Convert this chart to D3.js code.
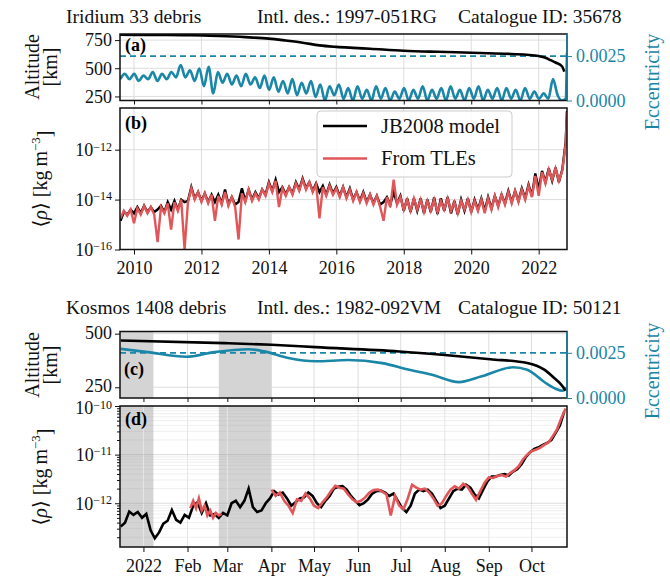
<!DOCTYPE html>
<html>
<head>
<meta charset="utf-8">
<script src="https://cdn.jsdelivr.net/npm/d3@7"></script>
<style>
  body { margin: 0; background: #fff; }
</style>
</head>
<body>
<div id="chart"></div>
<script>
// ---------------- data ----------------
// (a) Iridium 33 debris: altitude [km] vs decimal year
const altAYears = [2009.585, 2010.5, 2011.0, 2011.7, 2012.5, 2013.3, 2014.0, 2014.5, 2015.0, 2015.5, 2016.0, 2016.5, 2017.0, 2018.0, 2019.0, 2020.0, 2021.0, 2021.65, 2022.0, 2022.2, 2022.35, 2022.5, 2022.69, 2022.76];
const altAKm = [797, 796, 795, 793, 786, 776, 763, 746, 727, 703, 690, 681, 673, 656, 646, 638, 629, 620, 608, 593, 572, 551, 518, 470];

// (a) eccentricity, sampled every eccAStep years from eccAStart (alternating highs / lows)
const eccAStart = 2009.59, eccAStep = 0.138;
const eccA = [
  0.0012, 0.0015, 0.0012, 0.0015, 0.0011, 0.0014, 0.0012, 0.0016, 0.0011, 0.0015,
  0.0012, 0.0016, 0.0013, 0.0020, 0.0013, 0.0017, 0.0011, 0.0018, 0.0008, 0.0019,
  0.0004, 0.0016, 0.0010, 0.0015, 0.0009, 0.0014, 0.0008, 0.0015, 0.0009, 0.0013,
  0.0007, 0.0014, 0.0006, 0.0013, 0.0005, 0.0011, 0.0004, 0.0012, 0.0003, 0.0010,
  0.0004, 0.0011, 0.0002, 0.0009, 0.0000, 0.0008, 0.0003, 0.0009, 0.0001, 0.0007,
  0.0000, 0.0008, 0.0001, 0.0006, 0.0000, 0.0008, 0.0001, 0.0007, 0.0000, 0.0005,
  0.0001, 0.0007, 0.0000, 0.0006, 0.0001, 0.0008, 0.0000, 0.0006, 0.0001, 0.0007,
  0.0000, 0.0008, 0.0001, 0.0006, 0.0000, 0.0007, 0.0001, 0.0008, 0.0000, 0.0006,
  0.0001, 0.0007, 0.0000, 0.0007, 0.0001, 0.0006, 0.0000, 0.0007, 0.0001, 0.0005,
  0.0001, 0.0004, 0.0001, 0.0012, 0.0003, 0.0000
];
const eccATailYears = [2022.80, 2022.84];
const eccATail = [0.0001, 0.0027];

// (b) log10 density [kg m^-3], sampled every rhoBStep years from rhoBStart
const rhoBStart = 2009.6, rhoBStep = 0.1;
const tleB = [
  -14.75, -14.45, -14.65, -14.4, -14.95, -14.35, -14.6, -14.25, -14.55, -14.3,
  -14.6, -15.7, -14.3, -14.55, -14.15, -15.2, -14.1, -14.45, -14.0, -16.0,
  -14.1, -13.55, -14.0, -13.7, -14.1, -13.75, -14.15, -13.8, -14.85, -13.85,
  -14.2, -13.7, -14.25, -13.9, -14.3, -15.6, -13.75, -14.1, -13.6, -14.05,
  -13.75, -14.0, -13.6, -13.85, -13.35, -13.7, -13.25, -14.3, -13.55, -13.85,
  -13.5, -13.8, -13.35, -13.65, -13.2, -13.6, -13.3, -13.7, -13.4, -14.75,
  -13.5, -13.85, -13.45, -13.8, -13.55, -13.9, -13.5, -13.95, -13.6, -14.05,
  -13.7, -14.1, -13.75, -14.15, -13.8, -14.2, -13.85, -14.3, -14.85, -13.9,
  -14.3, -13.2, -14.2, -13.9, -14.4, -14.0, -14.45, -13.95, -14.4, -14.0,
  -14.5, -14.05, -14.45, -14.0, -14.5, -14.05, -14.4, -13.95, -14.45, -14.1,
  -14.55, -14.05, -14.4, -14.0, -14.5, -14.05, -14.45, -14.0, -14.55, -13.95,
  -14.4, -13.85, -14.3, -13.8, -14.2, -13.7, -14.15, -13.65, -14.1, -13.6,
  -14.0, -13.45, -13.9, -13.05, -13.85, -12.9, -13.35, -12.8, -13.2, -12.75,
  -13.25, -12.85, -11.8
];
const jbB = [
  -14.85, -14.5, -14.6, -14.4, -14.55, -14.3, -14.55, -14.25, -14.5, -14.3,
  -14.5, -14.4, -14.25, -14.5, -14.1, -14.4, -14.05, -14.4, -14.0, -14.1,
  -14.05, -13.5, -13.95, -13.7, -14.05, -13.75, -14.1, -13.8, -14.1, -13.8,
  -14.15, -13.6, -14.2, -13.9, -14.2, -14.1, -13.55, -14.05, -13.6, -14.0,
  -13.7, -13.95, -13.6, -13.8, -13.3, -13.65, -13.2, -13.7, -13.5, -13.8,
  -13.5, -13.75, -13.3, -13.6, -13.15, -13.55, -13.3, -13.65, -13.35, -13.7,
  -13.45, -13.8, -13.4, -13.75, -13.5, -13.85, -13.5, -13.9, -13.55, -14.0,
  -13.7, -14.05, -13.7, -14.1, -13.8, -14.15, -13.85, -14.2, -14.1, -13.9,
  -14.2, -13.7, -14.15, -13.85, -14.45, -13.95, -14.5, -13.95, -14.45, -13.95,
  -14.55, -14.0, -14.5, -13.92, -14.58, -13.95, -14.45, -13.9, -14.55, -14.05,
  -14.6, -14.0, -14.45, -13.95, -14.5, -14.0, -14.4, -13.95, -14.45, -13.9,
  -14.35, -13.85, -14.25, -13.8, -14.15, -13.65, -14.1, -13.65, -14.05, -13.55,
  -13.95, -13.4, -13.85, -12.95, -13.6, -12.85, -13.3, -12.75, -13.25, -12.72,
  -13.3, -12.8, -11.7
];
const rhoBTailYear = 2022.84;
const tleBTail = -10.5, jbBTail = -10.45;

// (c) Kosmos 1408 debris
const altCDates = ["2021-12-16", "2022-02-27", "2022-04-01", "2022-05-02", "2022-06-30", "2022-08-03", "2022-09-02", "2022-09-28", "2022-10-10", "2022-10-17", "2022-10-23", "2022-10-25"];
const altCKm = [468, 456, 448, 437, 417, 399, 381, 363, 332, 293, 254, 234];
const eccCDates = ["2021-12-16", "2022-01-04", "2022-01-31", "2022-02-20", "2022-03-16", "2022-03-27", "2022-04-13", "2022-05-02", "2022-05-25", "2022-06-18", "2022-07-07", "2022-07-23", "2022-08-11", "2022-08-27", "2022-09-18", "2022-09-28", "2022-10-11", "2022-10-18", "2022-10-23", "2022-10-25"];
const eccC = [0.00272, 0.00254, 0.00228, 0.00254, 0.0027, 0.00258, 0.00221, 0.00203, 0.0021, 0.00193, 0.00156, 0.00129, 0.00088, 0.0012, 0.0017, 0.00156, 0.00083, 0.00051, 0.0004, 0.0006];

// shaded intervals in (c)/(d)
const shadeStarts = ["2021-12-15", "2022-02-23"];
const shadeEnds = ["2022-01-08", "2022-04-01"];

// (d) log10 density, JB2008 every 3 days from 2021-12-16
const jbDStart = "2021-12-16", jbDStepDays = 3;
const jbD = [
  -12.48, -12.4, -12.17, -12.24, -12.18, -12.3, -12.22, -12.55, -12.72, -12.6,
  -12.42, -12.36, -12.14, -12.34, -12.4, -12.24, -12.3, -12.05, -11.98, -12.2,
  -12.0, -12.25, -12.22, -12.3, -12.2, -12.25, -12.0, -11.95, -12.08, -11.95,
  -11.7, -12.08, -12.18, -12.15, -12.0, -11.9, -11.75, -11.82, -11.78, -11.9,
  -12.05, -11.98, -11.9, -11.88, -11.78, -11.85, -12.0, -12.08, -11.95, -11.85,
  -11.7, -11.66, -11.65, -11.72, -11.85, -11.95, -12.04, -12.0, -11.92, -11.8,
  -11.75, -11.74, -11.78, -11.85, -11.8, -11.95, -12.1, -12.18, -12.05, -11.8,
  -11.72, -11.75, -11.72, -11.8, -11.95, -12.1, -12.05, -11.9, -11.75, -11.7,
  -11.72, -11.62, -11.68, -11.82, -11.9, -11.72, -11.55, -11.45, -11.45, -11.42,
  -11.4, -11.43, -11.35, -11.3, -11.2, -11.05, -10.95, -10.88, -10.85, -10.8,
  -10.76, -10.7, -10.55, -10.4, -10.12
];
// (d) log10 density from TLEs, two stretches
const tleD1Start = "2022-02-03", tleD1StepDays = 2;
const tleD1 = [-12.1, -11.95, -12.1, -11.9, -12.15, -12.05, -12.25, -12.15, -12.3, -12.2, -12.25, -12.22];
const tleD2Start = "2022-04-01", tleD2StepDays = 3;
const tleD2 = [
  -11.72, -11.85, -11.78, -11.95, -12.05, -12.2, -11.92, -11.95, -11.8, -11.9,
  -12.05, -12.1, -11.98, -11.88, -11.75, -11.64, -11.68, -11.7, -11.82, -11.92,
  -11.98, -11.95, -11.88, -11.78, -11.73, -11.72, -11.76, -11.82, -12.25, -11.85,
  -12.05, -12.12, -11.9, -11.62, -11.68, -11.72, -11.7, -11.78, -11.9, -12.05,
  -12.0, -11.85, -11.72, -11.65, -11.7, -11.6, -11.66, -11.8, -11.93, -11.75,
  -11.58, -11.47, -11.48, -11.44, -11.42, -11.45, -11.38, -11.32, -11.24, -11.1,
  -11.0, -10.93, -10.9, -10.86, -10.8, -10.75, -10.62, -10.48, -10.25, -10.05
];

// ticks
const yearTicks = [2010, 2012, 2014, 2016, 2018, 2020, 2022];
const altATicks = [250, 500, 750];
const altCTicks = [250, 500];
const eccTicks = [0, 0.0025];
const rhoBTicks = [1e-16, 1e-14, 1e-12];
const rhoDTicks = [1e-12, 1e-11, 1e-10];
const monthTicks = ["2022-01-01", "2022-02-01", "2022-03-01", "2022-04-01", "2022-05-01", "2022-06-01", "2022-07-01", "2022-08-01", "2022-09-01", "2022-10-01"];
const monthLabels = ["2022", "Feb", "Mar", "Apr", "May", "Jun", "Jul", "Aug", "Sep", "Oct"];

// ---------------- layout ----------------
const FONT = '"Liberation Serif", "DejaVu Serif", serif';
const TEAL = "#1a86a8", RED = "#e15759", GRID = "#dddddd", SHADE = "#d4d4d4";
const TICKFS = 18;
const L = 120, R = 567;
const pa = {top: 34, bottom: 100.5}, pb = {top: 108, bottom: 249.5};
const pc = {top: 331.5, bottom: 398}, pd = {top: 406, bottom: 547};
const parse = d3.utcParse("%Y-%m-%d");

const svg = d3.select("#chart").append("svg")
  .attr("width", 670).attr("height", 577)
  .style("font-family", FONT);

// scales
const xA = d3.scaleLinear().domain([2009.585, 2022.84]).range([L, R]);
const yAltA = d3.scaleLinear().domain([214, 804]).range([pa.bottom, pa.top]);
const yEccA = d3.scaleLinear().domain([0, 0.00374]).range([pa.bottom, pa.top]);
const yRhoB = d3.scaleLog().domain([1e-16, Math.pow(10, -10.33)]).range([pb.bottom, pb.top]);
const xD = d3.scaleUtc().domain([new Date(Date.UTC(2021, 11, 15, 12)), new Date(Date.UTC(2022, 9, 26))]).range([L, R]);
const yAltC = d3.scaleLinear().domain([200, 510]).range([pc.bottom, pc.top]);
const yEccC = d3.scaleLinear().domain([0, 0.00368]).range([pc.bottom, pc.top]);
const yRhoD = d3.scaleLog().domain([Math.pow(10, -12.9), 1e-10]).range([pd.bottom, pd.top]);

// clip paths
const defs = svg.append("defs");
[["ca", pa], ["cb", pb], ["cc", pc], ["cd", pd]].forEach(([id, p]) => {
  defs.append("clipPath").attr("id", id).append("rect")
    .attr("x", L).attr("y", p.top).attr("width", R - L).attr("height", p.bottom - p.top);
});

// helpers
function vGrid(ticks, x, p, color) {
  svg.append("g").selectAll("line").data(ticks).join("line")
    .attr("x1", d => x(d)).attr("x2", d => x(d))
    .attr("y1", p.top).attr("y2", p.bottom)
    .attr("stroke", color || GRID).attr("stroke-width", 1);
}
function hGrid(ticks, y, color, opacity) {
  svg.append("g").selectAll("line").data(ticks).join("line")
    .attr("x1", L).attr("x2", R)
    .attr("y1", d => y(d)).attr("y2", d => y(d))
    .attr("stroke", color || GRID).attr("stroke-width", 1)
    .attr("stroke-opacity", opacity == null ? 1 : opacity);
}
function styleAxis(g, color) {
  g.attr("font-family", FONT).attr("font-size", TICKFS);
  g.select(".domain").remove();
  g.selectAll(".tick line").attr("stroke", color).attr("stroke-width", 1);
  g.selectAll(".tick text").attr("fill", color);
}
function powLabels(g) {
  g.selectAll(".tick text").each(function(d) {
    const t = d3.select(this);
    const e = Math.round(Math.log10(d));
    t.text("10");
    t.append("tspan").attr("dy", "-0.45em").attr("font-size", 12).text("\u2212" + Math.abs(e));
  });
}
function frame(p, rightColor) {
  svg.append("rect").attr("x", L).attr("y", p.top).attr("width", R - L).attr("height", p.bottom - p.top)
    .attr("fill", "none").attr("stroke", "#111").attr("stroke-width", 1.5);
  if (rightColor) {
    svg.append("line").attr("x1", R).attr("x2", R).attr("y1", p.top).attr("y2", p.bottom)
      .attr("stroke", rightColor).attr("stroke-width", 1.5);
  }
}
function panelTag(txt, x, y) {
  svg.append("text").attr("x", x).attr("y", y).attr("font-size", 18).attr("font-weight", "bold").text(txt);
}
const dayMs = 86400000;

// ---------------- titles ----------------
const titleRows = [
  {y: 23, parts: ["Iridium 33 debris", "Intl. des.: 1997-051RG", "Catalogue ID: 35678"]},
  {y: 314, parts: ["Kosmos 1408 debris", "Intl. des.: 1982-092VM", "Catalogue ID: 50121"]}
];
const titleX = [66, 257, 458];
titleRows.forEach(row => {
  row.parts.forEach((s, i) => {
    svg.append("text").attr("x", titleX[i]).attr("y", row.y).attr("font-size", 19.5).attr("fill", "#111").text(s);
  });
});

// ---------------- panel (a) ----------------
vGrid(yearTicks, xA, pa);
hGrid(altATicks, yAltA);
const gA = svg.append("g").attr("clip-path", "url(#ca)");
gA.append("line").attr("x1", L).attr("x2", R).attr("y1", yEccA(0.0025)).attr("y2", yEccA(0.0025))
  .attr("stroke", TEAL).attr("stroke-width", 1.8).attr("stroke-dasharray", "6,4");
const eccAPts = eccA.map((v, i) => [eccAStart + i * eccAStep, v])
  .concat(eccATailYears.map((yr, i) => [yr, eccATail[i]]));
gA.append("path").datum(eccAPts)
  .attr("fill", "none").attr("stroke", TEAL).attr("stroke-width", 2.6)
  .attr("d", d3.line().x(d => xA(d[0])).y(d => yEccA(d[1])).curve(d3.curveMonotoneX));
gA.append("path").datum(altAYears.map((yr, i) => [yr, altAKm[i]]))
  .attr("fill", "none").attr("stroke", "#000").attr("stroke-width", 2.6)
  .attr("d", d3.line().x(d => xA(d[0])).y(d => yAltA(d[1])).curve(d3.curveMonotoneX));
frame(pa, TEAL);
const axALeft = svg.append("g").attr("transform", `translate(${L},0)`)
  .call(d3.axisLeft(yAltA).tickValues(altATicks).tickSize(5).tickPadding(3));
styleAxis(axALeft, "#111");
const axARight = svg.append("g").attr("transform", `translate(${R},0)`)
  .call(d3.axisRight(yEccA).tickValues(eccTicks).tickFormat(d3.format(".4f")).tickSize(5).tickPadding(4));
styleAxis(axARight, TEAL);
const axABottom = svg.append("g").attr("transform", `translate(0,${pa.bottom})`)
  .call(d3.axisBottom(xA).tickValues(yearTicks).tickFormat("").tickSize(4));
styleAxis(axABottom, "#111");
panelTag("(a)", 125, 51);

// ---------------- panel (b) ----------------
vGrid(yearTicks, xA, pb);
hGrid(rhoBTicks, yRhoB);
const gB = svg.append("g").attr("clip-path", "url(#cb)");
const jbBPts = jbB.map((v, i) => [rhoBStart + i * rhoBStep, v]).concat([[rhoBTailYear, jbBTail]]);
const tleBPts = tleB.map((v, i) => [rhoBStart + i * rhoBStep, v]).concat([[rhoBTailYear, tleBTail]]);
const lineB = d3.line().x(d => xA(d[0])).y(d => yRhoB(Math.pow(10, d[1])));
gB.append("path").datum(jbBPts).attr("fill", "none").attr("stroke", "#000").attr("stroke-width", 2.4).attr("d", lineB);
gB.append("path").datum(tleBPts).attr("fill", "none").attr("stroke", RED).attr("stroke-width", 2.4).attr("d", lineB);
frame(pb);
const axBLeft = svg.append("g").attr("transform", `translate(${L},0)`)
  .call(d3.axisLeft(yRhoB).tickValues(rhoBTicks).tickSize(5).tickPadding(3));
styleAxis(axBLeft, "#111");
powLabels(axBLeft);
const axBBottom = svg.append("g").attr("transform", `translate(0,${pb.bottom})`)
  .call(d3.axisBottom(xA).tickValues(yearTicks).tickFormat(d3.format("d")).tickSize(5).tickPadding(7));
styleAxis(axBBottom, "#111");
panelTag("(b)", 125, 129);

// legend
const lg = svg.append("g");
lg.append("rect").attr("x", 317).attr("y", 111).attr("width", 195).attr("height", 66).attr("rx", 4)
  .attr("fill", "#fff").attr("fill-opacity", 0.85).attr("stroke", "#cccccc").attr("stroke-width", 1);
[["JB2008 model", "#000", 126], ["From TLEs", RED, 158.5]].forEach(([lab, col, y]) => {
  lg.append("line").attr("x1", 323).attr("x2", 367).attr("y1", y).attr("y2", y).attr("stroke", col).attr("stroke-width", 2.6);
  lg.append("text").attr("x", 381).attr("y", y + 6.5).attr("font-size", 20.5).attr("fill", "#111").text(lab);
});

// ---------------- panel (c) ----------------
const monthDates = monthTicks.map(parse);
const shades = shadeStarts.map((s, i) => [parse(s), parse(shadeEnds[i])]);
vGrid(monthDates, xD, pc);
hGrid(altCTicks, yAltC);
const gC = svg.append("g").attr("clip-path", "url(#cc)");
gC.selectAll("rect.shade").data(shades).join("rect").attr("class", "shade")
  .attr("x", d => xD(d[0])).attr("width", d => xD(d[1]) - xD(d[0]))
  .attr("y", pc.top).attr("height", pc.bottom - pc.top).attr("fill", SHADE);
gC.append("line").attr("x1", L).attr("x2", R).attr("y1", yEccC(0.0025)).attr("y2", yEccC(0.0025))
  .attr("stroke", TEAL).attr("stroke-width", 1.8).attr("stroke-dasharray", "6,4");
gC.append("path").datum(eccCDates.map((s, i) => [parse(s), eccC[i]]))
  .attr("fill", "none").attr("stroke", TEAL).attr("stroke-width", 2.6)
  .attr("d", d3.line().x(d => xD(d[0])).y(d => yEccC(d[1])).curve(d3.curveMonotoneX));
gC.append("path").datum(altCDates.map((s, i) => [parse(s), altCKm[i]]))
  .attr("fill", "none").attr("stroke", "#000").attr("stroke-width", 2.6)
  .attr("d", d3.line().x(d => xD(d[0])).y(d => yAltC(d[1])).curve(d3.curveMonotoneX));
frame(pc, TEAL);
const axCLeft = svg.append("g").attr("transform", `translate(${L},0)`)
  .call(d3.axisLeft(yAltC).tickValues(altCTicks).tickSize(5).tickPadding(3));
styleAxis(axCLeft, "#111");
axCLeft.selectAll(".tick text").attr("dy", "0.26em");
const axCRight = svg.append("g").attr("transform", `translate(${R},0)`)
  .call(d3.axisRight(yEccC).tickValues(eccTicks).tickFormat(d3.format(".4f")).tickSize(5).tickPadding(4));
styleAxis(axCRight, TEAL);
const axCBottom = svg.append("g").attr("transform", `translate(0,${pc.bottom})`)
  .call(d3.axisBottom(xD).tickValues(monthDates).tickFormat("").tickSize(4));
styleAxis(axCBottom, "#111");
panelTag("(c)", 124, 375);

// ---------------- panel (d) ----------------
const minorD = [];
[-13, -12, -11].forEach(e => { for (let k = 2; k <= 9; k++) { const v = k * Math.pow(10, e); if (v > yRhoD.domain()[0] && v < 1e-10) minorD.push(v); } });
const gDshade = svg.append("g").attr("clip-path", "url(#cd)");
gDshade.selectAll("rect").data(shades).join("rect")
  .attr("x", d => xD(d[0])).attr("width", d => xD(d[1]) - xD(d[0]))
  .attr("y", pd.top).attr("height", pd.bottom - pd.top).attr("fill", SHADE);
hGrid(minorD, yRhoD, "#9a9a9a", 0.16);
vGrid(monthDates, xD, pd, "#e6e6e6");
hGrid(rhoDTicks, yRhoD, "#8a8a8a", 0.3);
const gD = svg.append("g").attr("clip-path", "url(#cd)");
const lineD = d3.line().x(d => xD(d[0])).y(d => yRhoD(Math.pow(10, d[1])));
const stepPts = (start, step, vals) => vals.map((v, i) => [new Date(parse(start).getTime() + i * step * dayMs), v]);
gD.append("path").datum(stepPts(jbDStart, jbDStepDays, jbD)).attr("fill", "none").attr("stroke", "#000").attr("stroke-width", 2.6).attr("d", lineD);
gD.append("path").datum(stepPts(tleD1Start, tleD1StepDays, tleD1)).attr("fill", "none").attr("stroke", RED).attr("stroke-width", 2.6).attr("d", lineD);
gD.append("path").datum(stepPts(tleD2Start, tleD2StepDays, tleD2)).attr("fill", "none").attr("stroke", RED).attr("stroke-width", 2.6).attr("d", lineD);
frame(pd);
const axDLeft = svg.append("g").attr("transform", `translate(${L},0)`)
  .call(d3.axisLeft(yRhoD).tickValues(rhoDTicks).tickSize(5).tickPadding(3));
styleAxis(axDLeft, "#111");
powLabels(axDLeft);
axDLeft.selectAll(".tick text").filter(d => d === 1e-10).attr("dy", "0.42em");
const axDMinor = svg.append("g").attr("transform", `translate(${L},0)`)
  .call(d3.axisLeft(yRhoD).tickValues(minorD).tickFormat("").tickSize(3));
styleAxis(axDMinor, "#111");
const axDBottom = svg.append("g").attr("transform", `translate(0,${pd.bottom})`)
  .call(d3.axisBottom(xD).tickValues(monthDates).tickFormat((d, i) => monthLabels[i]).tickSize(5).tickPadding(7));
styleAxis(axDBottom, "#111");
panelTag("(d)", 125, 425);

// ---------------- axis titles ----------------
function rotText(x, yc, color) {
  return svg.append("text").attr("transform", `translate(${x},${yc}) rotate(-90)`)
    .attr("text-anchor", "middle").attr("font-size", 20).attr("fill", color);
}
rotText(39, 67, "#111").text("Altitude");
rotText(57, 67, "#111").text("[km]");
rotText(39, 365, "#111").text("Altitude");
rotText(57, 365, "#111").text("[km]");
[[47, 179], [47, 477]].forEach(([x, yc]) => {
  const t = rotText(x, yc, "#111");
  t.append("tspan").text("\u27E8");
  t.append("tspan").attr("font-style", "italic").text("\u03C1");
  t.append("tspan").text("\u27E9 [kg\u2009m");
  t.append("tspan").attr("dy", "-0.55em").attr("font-size", 13).text("\u22123");
  t.append("tspan").attr("dy", "0.55em").text("]");
});
rotText(659, 82, TEAL).text("Eccentricity");
rotText(659, 371, TEAL).text("Eccentricity");
</script>
</body>
</html>
